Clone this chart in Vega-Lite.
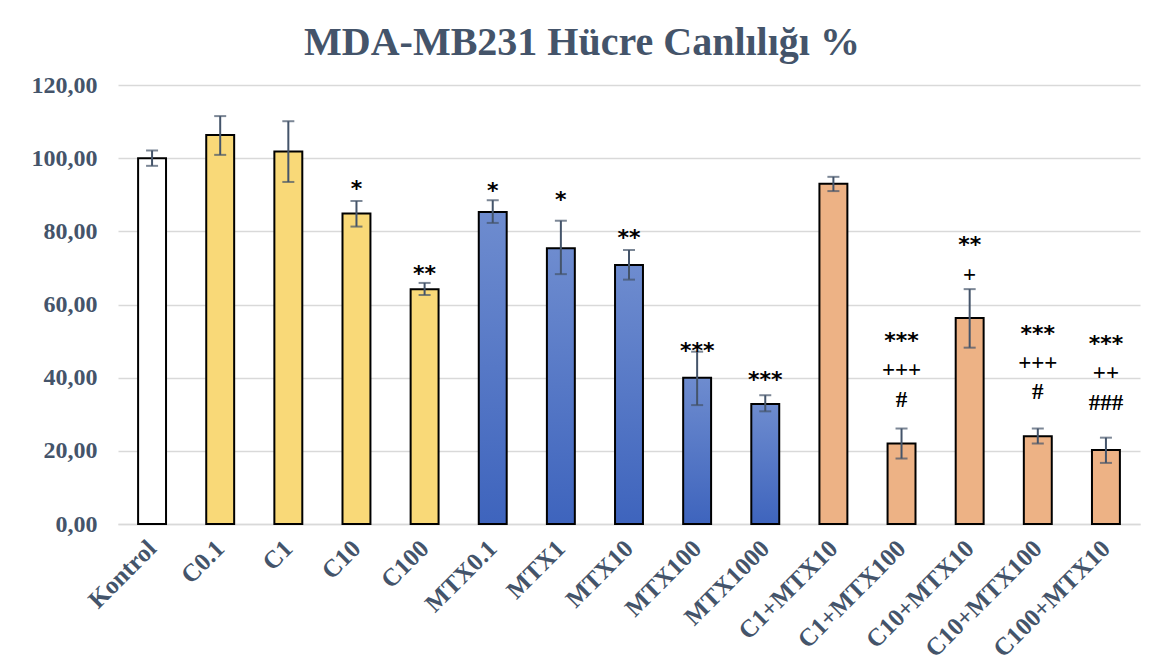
{
  "$schema": "https://vega.github.io/schema/vega-lite/v6.json",
  "width": 1022,
  "height": 439,
  "autosize": "none",
  "padding": {"left": 118, "top": 85, "right": 21, "bottom": 142},
  "background": "white",
  "title": {
    "text": "MDA-MB231 Hücre Canlılığı %",
    "font": "Liberation Serif",
    "fontSize": 40,
    "fontWeight": "bold",
    "color": "#44546A",
    "anchor": "middle",
    "dx": -47,
    "offset": 10
  },
  "datasets": {
    "bars": [
      {"name": "Kontrol", "grp": "ctrl", "value": 100.0, "lo": 97.9, "hi": 102.1},
      {"name": "C0.1", "grp": "C", "value": 106.3, "lo": 100.9, "hi": 111.5},
      {"name": "C1", "grp": "C", "value": 101.8, "lo": 93.5, "hi": 110.1},
      {"name": "C10", "grp": "C", "value": 84.9, "lo": 81.3, "hi": 88.3},
      {"name": "C100", "grp": "C", "value": 64.2, "lo": 62.6, "hi": 65.9},
      {"name": "MTX0.1", "grp": "MTX", "value": 85.3, "lo": 82.3, "hi": 88.5},
      {"name": "MTX1", "grp": "MTX", "value": 75.4, "lo": 68.3, "hi": 82.9},
      {"name": "MTX10", "grp": "MTX", "value": 70.8, "lo": 66.8, "hi": 74.9},
      {"name": "MTX100", "grp": "MTX", "value": 40.0, "lo": 32.5, "hi": 47.1},
      {"name": "MTX1000", "grp": "MTX", "value": 32.8, "lo": 30.8, "hi": 35.2},
      {"name": "C1+MTX10", "grp": "combo", "value": 93.0, "lo": 91.0, "hi": 94.9},
      {"name": "C1+MTX100", "grp": "combo", "value": 22.0, "lo": 17.9, "hi": 26.1},
      {"name": "C10+MTX10", "grp": "combo", "value": 56.3, "lo": 48.2, "hi": 64.2},
      {"name": "C10+MTX100", "grp": "combo", "value": 24.0, "lo": 22.0, "hi": 26.1},
      {"name": "C100+MTX10", "grp": "combo", "value": 20.2, "lo": 16.7, "hi": 23.6}
    ],
    "ann": [
      {"name": "C10", "label": "*", "pos": 93.3},
      {"name": "C100", "label": "**", "pos": 70.1},
      {"name": "MTX0.1", "label": "*", "pos": 92.6},
      {"name": "MTX1", "label": "*", "pos": 90.3},
      {"name": "MTX10", "label": "**", "pos": 79.7},
      {"name": "MTX100", "label": "***", "pos": 48.9},
      {"name": "MTX1000", "label": "***", "pos": 40.9},
      {"name": "C1+MTX100", "label": "***", "pos": 51.6},
      {"name": "C1+MTX100", "label": "+++", "pos": 42.1},
      {"name": "C1+MTX100", "label": "#", "pos": 33.9},
      {"name": "C10+MTX10", "label": "**", "pos": 77.8},
      {"name": "C10+MTX10", "label": "+", "pos": 68.2},
      {"name": "C10+MTX100", "label": "***", "pos": 53.7},
      {"name": "C10+MTX100", "label": "+++", "pos": 44.1},
      {"name": "C10+MTX100", "label": "#", "pos": 36.1},
      {"name": "C100+MTX10", "label": "***", "pos": 50.9},
      {"name": "C100+MTX10", "label": "++", "pos": 41.2},
      {"name": "C100+MTX10", "label": "###", "pos": 33.0}
    ]
  },
  "encoding": {
    "x": {
      "field": "name",
      "type": "nominal",
      "sort": null,
      "scale": {
        "domain": ["Kontrol", "C0.1", "C1", "C10", "C100", "MTX0.1", "MTX1", "MTX10", "MTX100", "MTX1000", "C1+MTX10", "C1+MTX100", "C10+MTX10", "C10+MTX100", "C100+MTX10"],
        "paddingInner": 0.59,
        "paddingOuter": 0.295
      },
      "axis": {
        "title": null,
        "labelAngle": -45,
        "labelAlign": "right",
        "labelBaseline": "middle",
        "labelFont": "Liberation Serif",
        "labelFontSize": 25,
        "labelFontWeight": "bold",
        "labelColor": "#44546A",
        "labelPadding": 20,
        "ticks": false,
        "domainColor": "#D9D9D9",
        "domainWidth": 1.5,
        "grid": false
      }
    }
  },
  "layer": [
    {
      "data": {"name": "bars"},
      "transform": [{"filter": "datum.grp != 'MTX'"}],
      "mark": {"type": "bar", "stroke": "#000000", "strokeWidth": 2},
      "encoding": {
        "y": {
          "field": "value",
          "type": "quantitative",
          "scale": {"domain": [0, 120], "nice": false},
          "axis": {
            "title": null,
            "values": [0, 20, 40, 60, 80, 100, 120],
            "labelExpr": "replace(format(datum.value, '.2f'), '.', ',')",
            "labelFont": "Liberation Serif",
            "labelFontSize": 24,
            "labelFontWeight": "bold",
            "labelColor": "#44546A",
            "labelPadding": 21,
            "grid": true,
            "gridColor": "#D9D9D9",
            "gridWidth": 1.5,
            "domain": false,
            "ticks": false
          }
        },
        "fill": {
          "field": "grp",
          "type": "nominal",
          "scale": {"domain": ["ctrl", "C", "combo"], "range": ["#FFFFFF", "#F9D978", "#EDB285"]},
          "legend": null
        }
      }
    },
    {
      "data": {"name": "bars"},
      "transform": [{"filter": "datum.grp == 'MTX'"}],
      "mark": {
        "type": "bar",
        "stroke": "#000000",
        "strokeWidth": 2,
        "fill": {
          "gradient": "linear",
          "x1": 0, "y1": 0, "x2": 0, "y2": 1,
          "stops": [
            {"offset": 0, "color": "#6E8CCF"},
            {"offset": 1, "color": "#3E64BD"}
          ]
        }
      },
      "encoding": {
        "y": {"field": "value", "type": "quantitative"}
      }
    },
    {
      "data": {"name": "bars"},
      "mark": {"type": "rule", "color": "#44546A", "strokeWidth": 2},
      "encoding": {
        "y": {"field": "lo", "type": "quantitative"},
        "y2": {"field": "hi"}
      }
    },
    {
      "data": {"name": "bars"},
      "mark": {"type": "tick", "color": "#44546A", "size": 12, "thickness": 2, "orient": "horizontal"},
      "encoding": {
        "y": {"field": "hi", "type": "quantitative"}
      }
    },
    {
      "data": {"name": "bars"},
      "mark": {"type": "tick", "color": "#44546A", "size": 12, "thickness": 2, "orient": "horizontal"},
      "encoding": {
        "y": {"field": "lo", "type": "quantitative"}
      }
    },
    {
      "data": {"name": "ann"},
      "transform": [{"filter": "indexof(datum.label, '*') >= 0"}],
      "mark": {"type": "text", "font": "DejaVu Sans", "fontSize": 22, "fontWeight": "bold", "color": "#000000", "baseline": "middle", "align": "center", "dy": 6},
      "encoding": {
        "y": {"field": "pos", "type": "quantitative"},
        "text": {"field": "label"}
      }
    },
    {
      "data": {"name": "ann"},
      "transform": [{"filter": "indexof(datum.label, '*') < 0"}],
      "mark": {"type": "text", "font": "Liberation Serif", "fontSize": 23, "fontWeight": "bold", "color": "#000000", "baseline": "middle", "align": "center"},
      "encoding": {
        "y": {"field": "pos", "type": "quantitative"},
        "text": {"field": "label"}
      }
    }
  ],
  "config": {
    "view": {"stroke": null}
  }
}
